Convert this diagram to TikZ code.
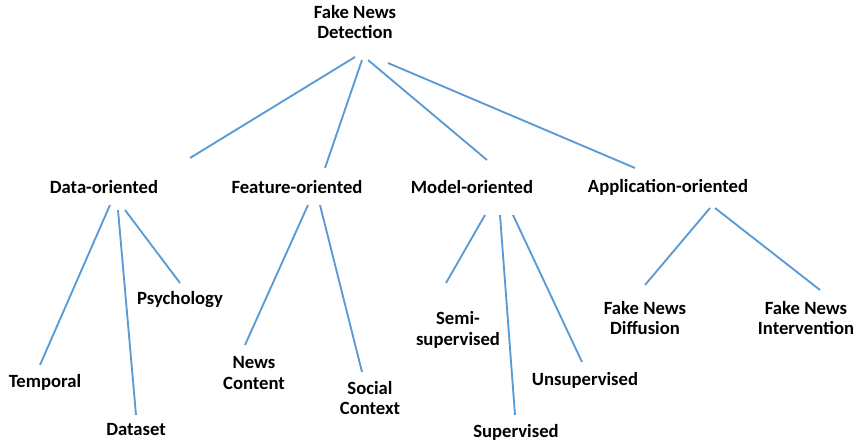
\documentclass[tikz,border=0pt]{standalone}
\usepackage{fontspec}
\setmainfont{Carlito}
\begin{document}
\begin{tikzpicture}[x=0.75pt,y=-0.75pt,
  lbl/.style={font=\bfseries\fontsize{14}{15.5}\selectfont,align=center,inner sep=0pt},
  br/.style={draw=blue!55!cyan!70!black,line width=1.4pt,color={rgb,255:red,91;green,155;blue,213}}]
\useasboundingbox (0,0) rectangle (866,444);
\node[lbl] (root) at (355,22) {Fake News\\Detection};
\node[lbl] (data) at (104,187) {Data-oriented};
\node[lbl] (feat) at (297,187) {Feature-oriented};
\node[lbl] (model) at (472,187) {Model-oriented};
\node[lbl] (app) at (668,187) {Application-oriented};
\node[lbl] (psy) at (180,300) {Psychology};
\node[lbl] (temp) at (45,382) {Temporal};
\node[lbl] (dset) at (136,430) {Dataset};
\node[lbl] (nc) at (254,373) {News\\Content};
\node[lbl] (sc) at (370,398) {Social\\Context};
\node[lbl] (semi) at (458,330) {Semi-\\supervised};
\node[lbl] (sup) at (516,432) {Supervised};
\node[lbl] (uns) at (585,380) {Unsupervised};
\node[lbl] (dif) at (645,318) {Fake News\\Diffusion};
\node[lbl] (int) at (806,318) {Fake News\\Intervention};
% connector endpoints
\coordinate (r1) at (355,57); \coordinate (d0) at (190,158);
\coordinate (r2) at (362,60); \coordinate (f0) at (325,168);
\coordinate (r3) at (368,60); \coordinate (m0) at (487,160);
\coordinate (r4) at (388,63); \coordinate (a0) at (635,168);
\coordinate (d1) at (110,205); \coordinate (t0) at (40,365);
\coordinate (d2) at (118,210); \coordinate (ds0) at (136,415);
\coordinate (d3) at (125,210); \coordinate (p0) at (180,283);
\coordinate (f1) at (308,205); \coordinate (n0) at (245,345);
\coordinate (f2) at (320,205); \coordinate (s0) at (362,372);
\coordinate (m1) at (485,215); \coordinate (se0) at (446,283);
\coordinate (m2) at (500,215); \coordinate (su0) at (515,415);
\coordinate (m3) at (513,215); \coordinate (u0) at (582,362);
\coordinate (a1) at (710,208); \coordinate (df0) at (645,285);
\coordinate (a2) at (715,208); \coordinate (i0) at (820,290);
\foreach \a/\b in {r1/d0,r2/f0,r3/m0,r4/a0,d1/t0,d2/ds0,d3/p0,f1/n0,f2/s0,m1/se0,m2/su0,m3/u0,a1/df0,a2/i0}
  \draw[br] (\a) -- (\b);
\end{tikzpicture}
\end{document}
